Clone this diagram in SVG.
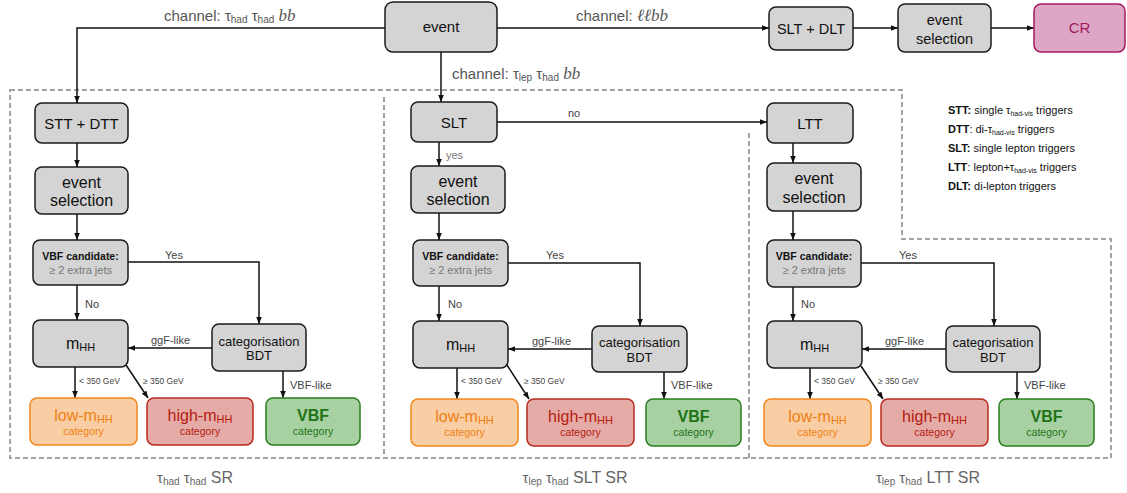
<svg xmlns="http://www.w3.org/2000/svg" width="1127" height="493" viewBox="0 0 1127 493">
<style>
text{font-family:"Liberation Sans",Arial,sans-serif;fill:#111}
.node rect{fill:#d4d4d4;stroke:#1a1a1a;stroke-width:1.5}
.conn path{fill:none;stroke:#111;stroke-width:1.5}
.arr{marker-end:url(#ah)}
.dash{fill:none;stroke:#a3a3a3;stroke-width:2;stroke-dasharray:5 3}
.t15{font-size:15px;text-anchor:middle}
.t16{font-size:16px;text-anchor:middle}
.t13{font-size:13px;text-anchor:middle}
.vb1{font-size:10.5px;font-weight:bold;text-anchor:middle}
.vb2{font-size:11px;text-anchor:middle;fill:#777}
.lbl{font-size:11px;fill:#444}
.sm{font-size:8.5px;fill:#444}
.cat{font-size:16px;text-anchor:middle}
.catb{font-size:16px;font-weight:bold;text-anchor:middle}
.cats{font-size:10.5px;text-anchor:middle}
.low rect{fill:#f9cea4;stroke:#f0861c;stroke-width:1.5}
.low text{fill:#ee7f12}
.high rect{fill:#e5aba7;stroke:#b82a1c;stroke-width:1.5}
.high text{fill:#b5200f}
.vbf rect{fill:#a7d0a3;stroke:#2a7e1e;stroke-width:1.5}
.vbf text{fill:#1f7417}
.ch{font-size:15px;fill:#555}
.ch .bb{font-family:"Liberation Serif",serif;font-style:italic;font-size:17px;fill:#555}
.leg{font-size:11px}
.sr{font-size:15px;fill:#666;text-anchor:middle}
</style>
<defs>
<marker id="ah" viewBox="0 0 10 10" refX="10" refY="5" markerWidth="7" markerHeight="7" markerUnits="userSpaceOnUse" orient="auto"><path d="M0,1 L10,5 L0,9 z" fill="#111"/></marker>
</defs>

<g id="regions">
<path class="dash" d="M10,90 H902 V239 H1111 V458 H10 Z"/>
<path class="dash" d="M384,97 V458"/>
<path class="dash" d="M749,133 V458"/>
</g>

<g id="connectors" class="conn">
<path class="arr" d="M385,28 H77 V103"/>
<path class="arr" d="M441,52 V102"/>
<path class="arr" d="M497,28 H769"/>
<path class="arr" d="M853,28 H898"/>
<path class="arr" d="M991,28 H1034"/>
<!-- left -->
<path class="arr" d="M77,143 V167"/>
<path class="arr" d="M77,214 V240"/>
<path class="arr" d="M77,285 V320"/>
<path class="arr" d="M128,262 H259 V324"/>
<path class="arr" d="M212,348 H128"/>
<path class="arr" d="M75,367 V398"/>
<path class="arr" d="M126,365 L148,398"/>
<path class="arr" d="M283,371 V398"/>
<!-- middle -->
<path class="arr" d="M439,142 V166"/>
<path class="arr" d="M439,213 V240"/>
<path class="arr" d="M439,286 V321"/>
<path class="arr" d="M508,263 H640 V326"/>
<path class="arr" d="M592,349 H508"/>
<path class="arr" d="M457,368 V399"/>
<path class="arr" d="M507,365 L529,399"/>
<path class="arr" d="M664,372 V399"/>
<path class="arr" d="M497,122 H767"/>
<!-- right -->
<path class="arr" d="M793,143 V163"/>
<path class="arr" d="M793,211 V240"/>
<path class="arr" d="M793,287 V321"/>
<path class="arr" d="M861,263 H994 V326"/>
<path class="arr" d="M946,349 H862"/>
<path class="arr" d="M810,368 V399"/>
<path class="arr" d="M861,366 L883,399"/>
<path class="arr" d="M1017,372 V399"/>
</g>

<g id="connector-labels">
<text class="ch" x="164" y="21">channel: τ<tspan font-size="10" dy="2">had</tspan><tspan dy="-2"> τ</tspan><tspan font-size="10" dy="2">had</tspan><tspan class="bb" dy="-2"> bb</tspan></text>
<text class="ch" x="576" y="21">channel: <tspan class="bb">ℓℓbb</tspan></text>
<text class="ch" x="452" y="79">channel: τ<tspan font-size="10" dy="2">lep</tspan><tspan dy="-2"> τ</tspan><tspan font-size="10" dy="2">had</tspan><tspan class="bb" dy="-2"> bb</tspan></text>
<text class="lbl" x="165" y="259">Yes</text>
<text class="lbl" x="85" y="308">No</text>
<text class="lbl" x="151" y="344">ggF-like</text>
<text class="sm" x="79" y="384">&lt; 350 GeV</text>
<text class="sm" x="143" y="384">≥ 350 GeV</text>
<text class="lbl" x="290" y="389">VBF-like</text>
<text class="lbl" x="568" y="117">no</text>
<text class="lbl" x="446" y="159" style="fill:#777">yes</text>
<text class="lbl" x="546" y="259">Yes</text>
<text class="lbl" x="448" y="308">No</text>
<text class="lbl" x="532" y="345">ggF-like</text>
<text class="sm" x="461" y="384">&lt; 350 GeV</text>
<text class="sm" x="524" y="384">≥ 350 GeV</text>
<text class="lbl" x="671" y="389">VBF-like</text>
<text class="lbl" x="899" y="259">Yes</text>
<text class="lbl" x="801" y="308">No</text>
<text class="lbl" x="885" y="345">ggF-like</text>
<text class="sm" x="814" y="384">&lt; 350 GeV</text>
<text class="sm" x="878" y="384">≥ 350 GeV</text>
<text class="lbl" x="1024" y="389">VBF-like</text>
</g>

<!-- top row -->
<g id="event" class="node"><rect x="385" y="2" width="112" height="50" rx="8"/><text class="t15" x="441" y="32">event</text></g>
<g id="slt-dlt" class="node"><rect x="769" y="7" width="84" height="43" rx="7"/><text class="t15" x="811" y="33.5" style="font-size:14.5px">SLT + DLT</text></g>
<g id="cr-selection" class="node"><rect x="898" y="4" width="93" height="48" rx="7"/><text class="t15" x="944.5" y="25" style="font-size:14.5px">event</text><text class="t15" x="944.5" y="44" style="font-size:14.5px">selection</text></g>
<g id="cr" class="node"><rect x="1034" y="4" width="91" height="48" rx="7" style="fill:#dca6c4;stroke:#a21a5e"/><text class="t15" x="1079.5" y="33" style="fill:#a21a5e">CR</text></g>

<!-- left column -->
<g id="L-trig" class="node"><rect x="35" y="103" width="93" height="40" rx="7"/><text class="t15" x="81.5" y="128.5">STT + DTT</text></g>
<g id="L-sel" class="node"><rect x="35" y="167" width="93" height="47" rx="7"/><text class="t16" x="81.5" y="188">event</text><text class="t16" x="81.5" y="206">selection</text></g>
<g id="L-vbfcand" class="node"><rect x="33" y="240" width="95" height="45" rx="7"/><text class="vb1" x="80.5" y="260">VBF candidate:</text><text class="vb2" x="80.5" y="274">≥ 2 extra jets</text></g>
<g id="L-mhh" class="node"><rect x="33" y="320" width="95" height="47" rx="7"/><text class="t16" x="80.5" y="349">m<tspan font-size="11" dy="2">HH</tspan></text></g>
<g id="L-bdt" class="node"><rect x="212" y="324" width="94" height="47" rx="7"/><text class="t13" x="259" y="345.5">categorisation</text><text class="t13" x="259" y="360">BDT</text></g>
<g id="L-low" class="low"><rect x="30" y="398" width="107" height="47" rx="7"/><text class="cat" x="83.5" y="421">low-m<tspan font-size="11" dy="2">HH</tspan></text><text class="cats" x="83.5" y="435">category</text></g>
<g id="L-high" class="high"><rect x="147" y="398" width="106" height="47" rx="7"/><text class="cat" x="200" y="421">high-m<tspan font-size="11" dy="2">HH</tspan></text><text class="cats" x="200" y="435">category</text></g>
<g id="L-vbf" class="vbf"><rect x="266" y="398" width="94" height="47" rx="7"/><text class="catb" x="313" y="421">VBF</text><text class="cats" x="313" y="435">category</text></g>

<!-- middle column -->
<g id="M-slt" class="node"><rect x="411" y="102" width="86" height="40" rx="7"/><text class="t15" x="454" y="127.5">SLT</text></g>
<g id="M-sel" class="node"><rect x="411" y="166" width="94" height="47" rx="7"/><text class="t16" x="458" y="187">event</text><text class="t16" x="458" y="205">selection</text></g>
<g id="M-vbfcand" class="node"><rect x="413" y="240" width="95" height="46" rx="7"/><text class="vb1" x="460.5" y="260">VBF candidate:</text><text class="vb2" x="460.5" y="274">≥ 2 extra jets</text></g>
<g id="M-mhh" class="node"><rect x="413" y="321" width="95" height="47" rx="7"/><text class="t16" x="460.5" y="350">m<tspan font-size="11" dy="2">HH</tspan></text></g>
<g id="M-bdt" class="node"><rect x="592" y="326" width="95" height="46" rx="7"/><text class="t13" x="639.5" y="347">categorisation</text><text class="t13" x="639.5" y="361.5">BDT</text></g>
<g id="M-low" class="low"><rect x="411" y="399" width="107" height="47" rx="7"/><text class="cat" x="464.5" y="422">low-m<tspan font-size="11" dy="2">HH</tspan></text><text class="cats" x="464.5" y="436">category</text></g>
<g id="M-high" class="high"><rect x="527" y="399" width="107" height="47" rx="7"/><text class="cat" x="580.5" y="422">high-m<tspan font-size="11" dy="2">HH</tspan></text><text class="cats" x="580.5" y="436">category</text></g>
<g id="M-vbf" class="vbf"><rect x="646" y="399" width="95" height="47" rx="7"/><text class="catb" x="693.5" y="422">VBF</text><text class="cats" x="693.5" y="436">category</text></g>

<!-- right column -->
<g id="R-ltt" class="node"><rect x="767" y="103" width="86" height="40" rx="7"/><text class="t15" x="810" y="128.5">LTT</text></g>
<g id="R-sel" class="node"><rect x="767" y="163" width="94" height="48" rx="7"/><text class="t16" x="814" y="184">event</text><text class="t16" x="814" y="202.5">selection</text></g>
<g id="R-vbfcand" class="node"><rect x="767" y="240" width="94" height="47" rx="7"/><text class="vb1" x="814" y="260">VBF candidate:</text><text class="vb2" x="814" y="274">≥ 2 extra jets</text></g>
<g id="R-mhh" class="node"><rect x="767" y="321" width="95" height="47" rx="7"/><text class="t16" x="814.5" y="350">m<tspan font-size="11" dy="2">HH</tspan></text></g>
<g id="R-bdt" class="node"><rect x="946" y="326" width="94" height="46" rx="7"/><text class="t13" x="993" y="347">categorisation</text><text class="t13" x="993" y="361.5">BDT</text></g>
<g id="R-low" class="low"><rect x="764" y="399" width="107" height="47" rx="7"/><text class="cat" x="817.5" y="422">low-m<tspan font-size="11" dy="2">HH</tspan></text><text class="cats" x="817.5" y="436">category</text></g>
<g id="R-high" class="high"><rect x="881" y="399" width="107" height="47" rx="7"/><text class="cat" x="934.5" y="422">high-m<tspan font-size="11" dy="2">HH</tspan></text><text class="cats" x="934.5" y="436">category</text></g>
<g id="R-vbf" class="vbf"><rect x="999" y="399" width="95" height="47" rx="7"/><text class="catb" x="1046.5" y="422">VBF</text><text class="cats" x="1046.5" y="436">category</text></g>

<g id="legend">
<text class="leg" x="948" y="114"><tspan font-weight="bold">STT:</tspan> single τ<tspan font-size="7" dy="1.5">had-vis</tspan><tspan dy="-1.5"> triggers</tspan></text>
<text class="leg" x="948" y="133"><tspan font-weight="bold">DTT</tspan>: di-τ<tspan font-size="7" dy="1.5">had-vis</tspan><tspan dy="-1.5"> triggers</tspan></text>
<text class="leg" x="948" y="152"><tspan font-weight="bold">SLT:</tspan> single lepton triggers</text>
<text class="leg" x="948" y="171"><tspan font-weight="bold">LTT</tspan>: lepton+τ<tspan font-size="7" dy="1.5">had-vis</tspan><tspan dy="-1.5"> triggers</tspan></text>
<text class="leg" x="948" y="190"><tspan font-weight="bold">DLT:</tspan> di-lepton triggers</text>
</g>

<g id="region-titles">
<text class="sr" x="195" y="483">τ<tspan font-size="10" dy="2">had</tspan><tspan dy="-2"> τ</tspan><tspan font-size="10" dy="2">had</tspan><tspan dy="-2" font-size="16"> SR</tspan></text>
<text class="sr" x="575" y="483">τ<tspan font-size="10" dy="2">lep</tspan><tspan dy="-2"> τ</tspan><tspan font-size="10" dy="2">had</tspan><tspan dy="-2" font-size="16"> SLT SR</tspan></text>
<text class="sr" x="928" y="483">τ<tspan font-size="10" dy="2">lep</tspan><tspan dy="-2"> τ</tspan><tspan font-size="10" dy="2">had</tspan><tspan dy="-2" font-size="16"> LTT SR</tspan></text>
</g>
</svg>
